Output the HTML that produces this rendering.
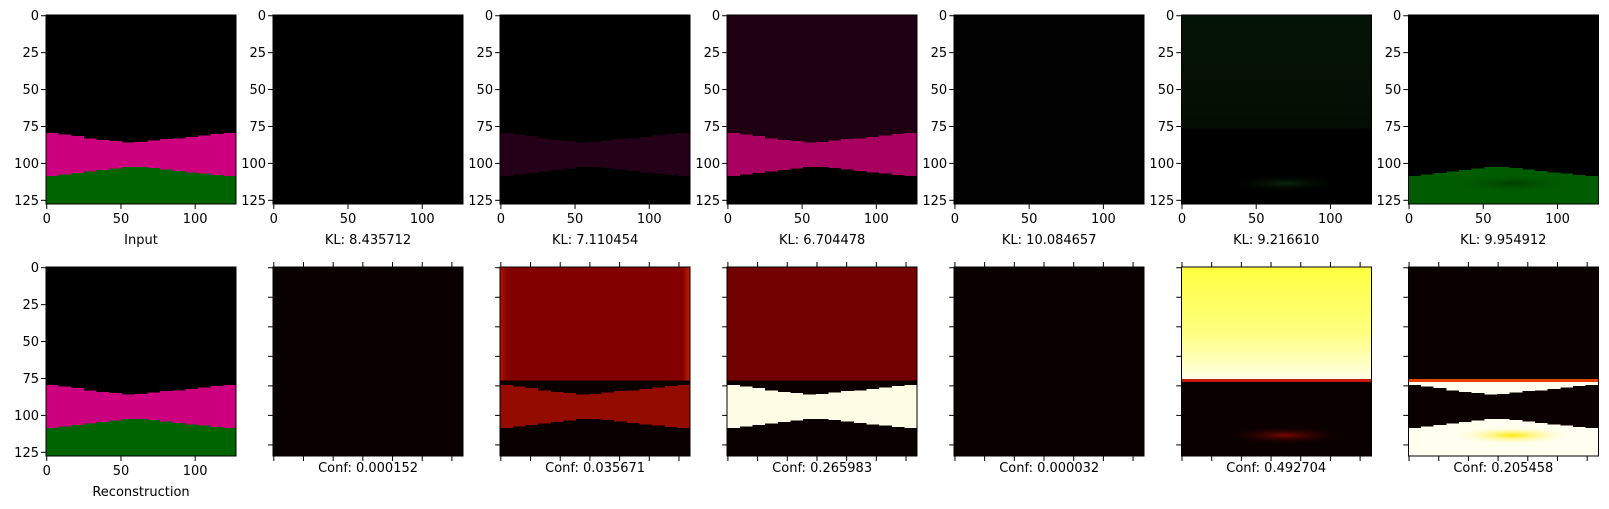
<!DOCTYPE html>
<html><head><meta charset="utf-8">
<style>
html,body{margin:0;padding:0;background:#fff;}
svg{display:block;font-family:"DejaVu Sans","Liberation Sans",sans-serif;}
polygon,rect{shape-rendering:crispEdges;}
</style></head>
<body>
<svg id="fig" width="1609" height="509" viewBox="0 0 1609 509" xmlns="http://www.w3.org/2000/svg">
<defs>
<linearGradient id="gYel" x1="0" y1="0" x2="0" y2="1"><stop offset="0" stop-color="#ffff40"/><stop offset="0.35" stop-color="#ffff80"/><stop offset="0.58" stop-color="#ffffe0"/><stop offset="1" stop-color="#ffffe0"/></linearGradient>
<linearGradient id="gRed3" x1="0" y1="0" x2="1" y2="0"><stop offset="0" stop-color="#b81000"/><stop offset="0.04" stop-color="#820000"/><stop offset="0.96" stop-color="#820000"/><stop offset="1" stop-color="#c82000"/></linearGradient>
<linearGradient id="gGrn6" x1="0" y1="0" x2="0" y2="1"><stop offset="0" stop-color="#041404"/><stop offset="1" stop-color="#020a02"/></linearGradient>
<radialGradient id="gSmudgeR" cx="0.5" cy="0.5" r="0.5"><stop offset="0" stop-color="#7a0800"/><stop offset="1" stop-color="#0b0000" stop-opacity="0"/></radialGradient>
<radialGradient id="gSmudgeY" cx="0.5" cy="0.5" r="0.5"><stop offset="0" stop-color="#ffe800"/><stop offset="1" stop-color="#ffffe8" stop-opacity="0"/></radialGradient>
<radialGradient id="gSmudgeG" cx="0.5" cy="0.5" r="0.5"><stop offset="0" stop-color="#003a00"/><stop offset="1" stop-color="#005c00" stop-opacity="0"/></radialGradient>
<radialGradient id="gSmudgeG6" cx="0.5" cy="0.5" r="0.5"><stop offset="0" stop-color="#0a260a"/><stop offset="1" stop-color="#000" stop-opacity="0"/></radialGradient>
</defs>
</svg>
<script>
// ---- data ----
const topBoundary = [80, 81, 82, 83.5, 84.5, 85.5, 86.5, 86, 85, 84, 83.5, 82.5, 81.5, 80.5, 80];
const bottomBoundary = [109, 108, 107, 106, 105, 104, 103, 103, 103.5, 104.5, 105.5, 106.5, 107.5, 108.5, 109];
const klValues = ["8.435712", "7.110454", "6.704478", "10.084657", "9.216610", "9.954912"];
const confValues = ["0.000152", "0.035671", "0.265983", "0.000032", "0.492704", "0.205458"];
const labeledTicks = [0, 25, 50, 75, 100, 125];
const xLabeledTicks = [0, 50, 100];
const plainTicks = [0, 20, 40, 60, 80, 100, 120];
const gapLevel = 77;

const NS = "http://www.w3.org/2000/svg";
const svg = document.getElementById('fig');
const PW = 190, PH = 189, LEFT0 = 46, STEP = 227.05;
const ROWY = [15, 267];
function mk(tag, attrs, parent) {
  const e = document.createElementNS(NS, tag);
  for (const k in attrs) e.setAttribute(k, attrs[k]);
  (parent || svg).appendChild(e);
  return e;
}
function sx(x0, v) { return x0 + v * PW / 128; }
function sy(y0, v) { return y0 + v * PH / 128; }
function stepPts(x0, y0, arr, reverse) {
  const bw = 128 / arr.length, pts = [];
  arr.forEach((b, i) => { pts.push([sx(x0, i * bw), sy(y0, b)]); pts.push([sx(x0, (i + 1) * bw), sy(y0, b)]); });
  return reverse ? pts.reverse() : pts;
}
function ptsStr(p) { return p.map(q => q[0].toFixed(1) + ',' + q[1].toFixed(1)).join(' '); }

const specs = [
  {upper:'#000', gap:'#000', band:'#cc007f', lower:'#006400'},
  {upper:'#000', gap:'#000', band:'#000', lower:'#000'},
  {upper:'#000', gap:'#000', band:'#230017', lower:'#000'},
  {upper:'#1f0012', gap:'#1f0012', band:'#a8005e', lower:'#000'},
  {upper:'#010101', gap:'#010101', band:'#010101', lower:'#010101'},
  {upper:'url(#gGrn6)', gap:'#000', band:'#000', lower:'#000', smudge:'url(#gSmudgeG6)'},
  {upper:'#000', gap:'#000', band:'#000', lower:'#005c00', smudge:'url(#gSmudgeG)'},
  {upper:'#000', gap:'#000', band:'#cc007f', lower:'#006400'},
  {upper:'#0b0000', gap:'#0b0000', band:'#0b0000', lower:'#0b0000'},
  {upper:'url(#gRed3)', gap:'#0b0000', band:'#940c00', lower:'#0b0000'},
  {upper:'#720000', gap:'#0b0000', band:'#fffce6', lower:'#0b0000'},
  {upper:'#0b0000', gap:'#0b0000', band:'#0b0000', lower:'#0b0000'},
  {upper:'url(#gYel)', gap:'#0b0000', band:'#0b0000', lower:'#0b0000', line:'#c81800', smudge:'url(#gSmudgeR)'},
  {upper:'#0b0000', gap:'#fffff0', band:'#0b0000', lower:'#fffff0', line:'#e84000', smudge:'url(#gSmudgeY)'}
];

specs.forEach((s, idx) => {
  const row = idx < 7 ? 0 : 1, col = idx % 7;
  const x0 = LEFT0 + col * STEP, y0 = ROWY[row];
  const g = mk('g', {});
  
  
  const up = mk('rect', {x:x0, y:y0, width:PW, height:PH, fill:s.upper}, g);
  
  
  const gapPts = [[x0, sy(y0, gapLevel)], [x0 + PW, sy(y0, gapLevel)]].concat(stepPts(x0, y0, topBoundary, true));
  const gp = mk('polygon', {points:ptsStr(gapPts), fill:s.gap}, g);
  
  
  const bandPts = stepPts(x0, y0, topBoundary, false).concat(stepPts(x0, y0, bottomBoundary, true));
  const bp = mk('polygon', {points:ptsStr(bandPts), fill:s.band}, g);
  
  
  const lowPts = stepPts(x0, y0, bottomBoundary, false).concat([[x0 + PW, y0 + PH], [x0, y0 + PH]]);
  const lp = mk('polygon', {points:ptsStr(lowPts), fill:s.lower}, g);
  
  
  if (s.smudge) {
    const sm = mk('ellipse', {cx:sx(x0, 70), cy:sy(y0, 114), rx:PW * 0.32, ry:9, fill:s.smudge}, g);
    
    
  }
  if (s.line) {
    const ln = mk('rect', {x:x0, y:sy(y0, gapLevel) - 1.5, width:PW, height:3, fill:s.line}, g);
    
    
  }
  const fr = mk('rect', {x:x0, y:y0, width:PW, height:PH, fill:'none', stroke:'#000', 'stroke-width':1}, g);
  
  

  const labeled = (row === 0 || col === 0);
  if (labeled) {
    labeledTicks.forEach(t => {
      const y = sy(y0, t + 0.5);
      mk('line', {x1:x0 - 5, x2:x0, y1:y, y2:y, stroke:'#000', 'stroke-width':1}, g);
      const tx = mk('text', {x:x0 - 7, y:y + 4.5, 'text-anchor':'end', 'font-size':13, fill:'#000'}, g);
      tx.textContent = t;
      
      
    });
    xLabeledTicks.forEach(t => {
      const x = sx(x0, t + 0.5);
      mk('line', {x1:x, x2:x, y1:y0 + PH, y2:y0 + PH + 5, stroke:'#000', 'stroke-width':1}, g);
      const tx = mk('text', {x:x, y:y0 + PH + 19, 'text-anchor':'middle', 'font-size':13, fill:'#000'}, g);
      tx.textContent = t;
      
      
    });
  } else {
    plainTicks.forEach(t => {
      const y = sy(y0, t + 0.5), x = sx(x0, t + 0.5);
      mk('line', {x1:x0 - 5, x2:x0, y1:y, y2:y, stroke:'#000', 'stroke-width':1}, g);
      mk('line', {x1:x, x2:x, y1:y0 - 5, y2:y0, stroke:'#000', 'stroke-width':1}, g);
      mk('line', {x1:x, x2:x, y1:y0 + PH, y2:y0 + PH + 5, stroke:'#000', 'stroke-width':1}, g);
    });
  }
  let cap, cy;
  if (row === 0) { cap = col === 0 ? 'Input' : 'KL: ' + klValues[col - 1]; cy = y0 + PH + 40; }
  else if (col === 0) { cap = 'Reconstruction'; cy = y0 + PH + 40; }
  else { cap = 'Conf: ' + confValues[col - 1]; cy = y0 + PH + 16; }
  const ct = mk('text', {x:x0 + PW / 2, y:cy, 'text-anchor':'middle', 'font-size':13, fill:'#000'}, g);
  ct.textContent = cap;
  
  
});
</script>
</body></html>
